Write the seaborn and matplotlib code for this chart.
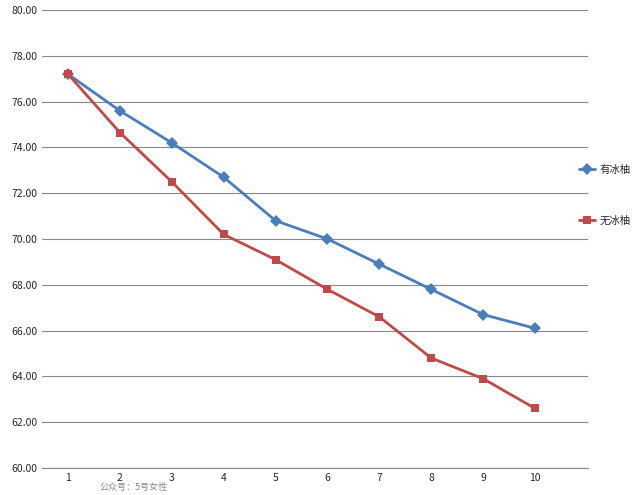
import matplotlib
matplotlib.use("Agg")
import matplotlib.pyplot as plt
import seaborn as sns
import pandas as pd

x = list(range(1, 11))
with_ice = [77.2, 75.6, 74.2, 72.7, 70.8, 70.0, 68.9, 67.8, 66.7, 66.1]
without_ice = [77.2, 74.65, 72.5, 70.2, 69.1, 67.8, 66.6, 64.8, 63.9, 62.6]
labels = ["有冰柚", "无冰柚"]

sns.set_style("white")
plt.rcParams['font.family'] = ['Noto Sans CJK SC', 'DejaVu Sans']

df = pd.DataFrame({"x": x * 2, "y": with_ice + without_ice,
                   "s": [labels[0]] * 10 + [labels[1]] * 10})

fig = plt.figure(figsize=(6.4, 4.95), dpi=100)
ax = fig.add_axes([42/640, 1 - 468/495, 546/640, 458/495])
sns.lineplot(data=df, x="x", y="y", hue="s", style="s",
             palette=["#4a7ebb", "#be4b48"], markers=["D", "s"], dashes=False,
             markersize=6, linewidth=2.0, markeredgewidth=0, ax=ax)
ax.set_xlim(0.5, 11.02)
ax.set_ylim(60, 80)
ax.set_yticks(range(60, 81, 2))
ax.set_yticklabels([f"{v:.2f}" for v in range(60, 81, 2)], fontsize=7.5)
ax.set_xticks(x)
ax.set_xticklabels([str(v) for v in x], fontsize=7.5)
ax.grid(axis="y", color="#888888", linewidth=0.8)
for s in ["top", "right", "left"]:
    ax.spines[s].set_visible(False)
ax.spines["bottom"].set_color("#888888")
ax.set_xlabel("")
ax.set_ylabel("")
ax.tick_params(length=0)
h, l = ax.get_legend_handles_labels()
ax.legend(h, l, loc="center left", bbox_to_anchor=(0.975, 0.595), frameon=False,
          fontsize=7.5, labelspacing=3.9, handlelength=1.6, handletextpad=0.4,
          borderaxespad=0)
fig.text(100/640, 1 - 487/495, "公众号：5号女性", fontsize=6.5, color="#888888", va="center")
fig.savefig("out.png", dpi=100)
